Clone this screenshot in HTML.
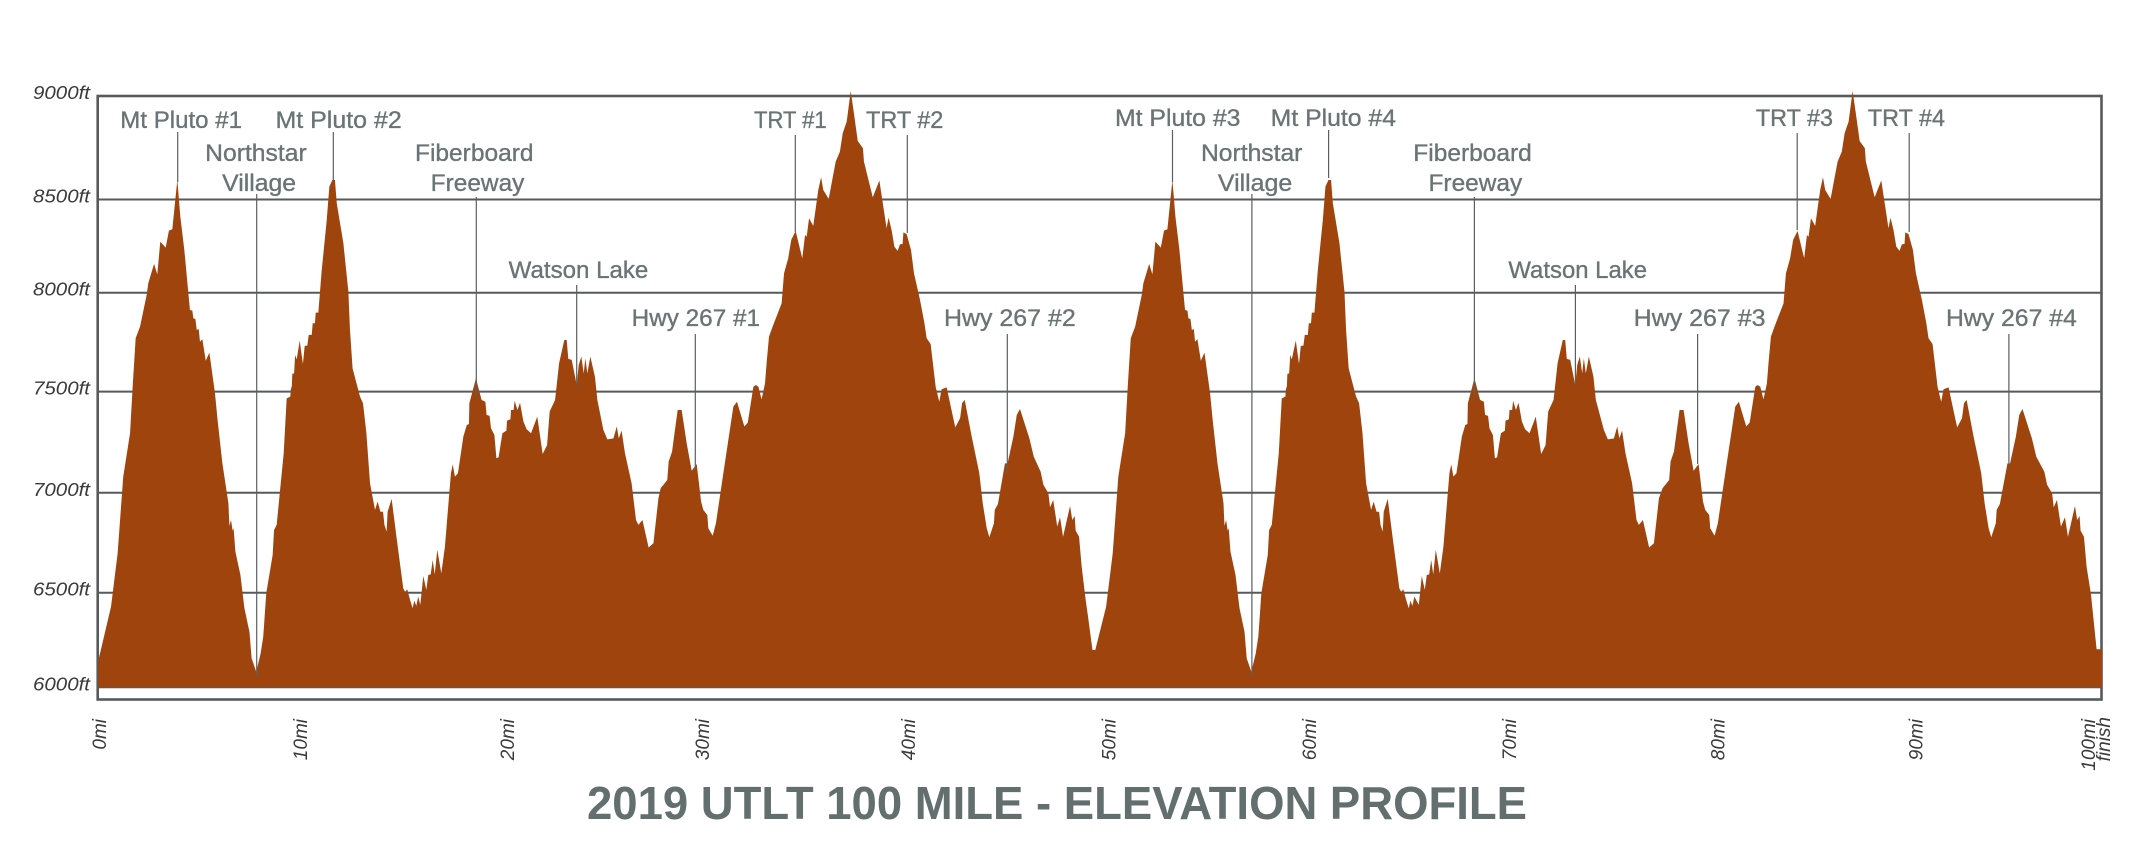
<!DOCTYPE html>
<html lang="en">
<head>
<meta charset="utf-8">
<title>2019 UTLT 100 Mile - Elevation Profile</title>
<style>
html,body{margin:0;padding:0;background:#fff;}
svg{display:block;}
text{font-family:"Liberation Sans",sans-serif;}
.ann{font-size:24px;fill:#6a7475;stroke:#6a7475;stroke-width:.35px;}
.leader{stroke:#5a5f60;stroke-width:1.2;}
.ytick,.xtick{font-style:italic;fill:#3a3a3a;}
</style>
</head>
<body>
<svg id="chart" xmlns="http://www.w3.org/2000/svg" width="2143" height="857" viewBox="0 0 2143 857">
  <rect x="0" y="0" width="2143" height="857" fill="#fff"/>
  <rect x="97.7" y="96" width="2003.8" height="603.5" fill="none" stroke="#58595b" stroke-width="2.6"/>
  <g id="grid"></g>
  <g id="marks"></g>
  <g id="yticks"></g>
  <g id="xticks"></g>

  <g>
    <line class="leader" x1="177.7" x2="177.7" y1="132" y2="182"/>
    <line class="leader" x1="333.3" x2="333.3" y1="132" y2="180"/>
    <line class="leader" x1="256.7" x2="256.7" y1="194" y2="676"/>
    <line class="leader" x1="476.3" x2="476.3" y1="197" y2="397"/>
    <line class="leader" x1="576.7" x2="576.7" y1="285" y2="385"/>
    <line class="leader" x1="695.3" x2="695.3" y1="334" y2="470"/>
    <line class="leader" x1="795.3" x2="795.3" y1="135" y2="232"/>
    <line class="leader" x1="907.3" x2="907.3" y1="135" y2="233"/>
    <line class="leader" x1="1007.3" x2="1007.3" y1="334" y2="473"/>
    <line class="leader" x1="1172.5" x2="1172.5" y1="130" y2="182"/>
    <line class="leader" x1="1328.6" x2="1328.6" y1="130" y2="178"/>
    <line class="leader" x1="1251.9" x2="1251.9" y1="194" y2="676"/>
    <line class="leader" x1="1474.4" x2="1474.4" y1="197" y2="397"/>
    <line class="leader" x1="1575.4" x2="1575.4" y1="285" y2="385"/>
    <line class="leader" x1="1697.6" x2="1697.6" y1="334" y2="464"/>
    <line class="leader" x1="1797.2" x2="1797.2" y1="133" y2="230"/>
    <line class="leader" x1="1909.2" x2="1909.2" y1="133" y2="232"/>
    <line class="leader" x1="2008.9" x2="2008.9" y1="334" y2="465"/>
  </g>

  <g>
    <text class="ann" x="120.3" y="128" textLength="121.7" lengthAdjust="spacingAndGlyphs">Mt Pluto #1</text>
    <text class="ann" x="275.5" y="128" textLength="126.2" lengthAdjust="spacingAndGlyphs">Mt Pluto #2</text>
    <text class="ann" x="205.2" y="161" textLength="101.5" lengthAdjust="spacingAndGlyphs">Northstar</text>
    <text class="ann" x="222.2" y="191" textLength="73.9" lengthAdjust="spacingAndGlyphs">Village</text>
    <text class="ann" x="415" y="161" textLength="118.5" lengthAdjust="spacingAndGlyphs">Fiberboard</text>
    <text class="ann" x="430.7" y="191" textLength="93.7" lengthAdjust="spacingAndGlyphs">Freeway</text>
    <text class="ann" x="508.7" y="278" textLength="139.6" lengthAdjust="spacingAndGlyphs">Watson Lake</text>
    <text class="ann" x="631.7" y="326" textLength="128.3" lengthAdjust="spacingAndGlyphs">Hwy 267 #1</text>
    <text class="ann" x="754" y="128" textLength="72.7" lengthAdjust="spacingAndGlyphs">TRT #1</text>
    <text class="ann" x="866" y="128" textLength="77.3" lengthAdjust="spacingAndGlyphs">TRT #2</text>
    <text class="ann" x="944" y="326" textLength="131.7" lengthAdjust="spacingAndGlyphs">Hwy 267 #2</text>
    <text class="ann" x="1115" y="126" textLength="125.4" lengthAdjust="spacingAndGlyphs">Mt Pluto #3</text>
    <text class="ann" x="1270.7" y="126" textLength="125.3" lengthAdjust="spacingAndGlyphs">Mt Pluto #4</text>
    <text class="ann" x="1201" y="161" textLength="101.4" lengthAdjust="spacingAndGlyphs">Northstar</text>
    <text class="ann" x="1217.9" y="191" textLength="74.4" lengthAdjust="spacingAndGlyphs">Village</text>
    <text class="ann" x="1413.3" y="161" textLength="118.5" lengthAdjust="spacingAndGlyphs">Fiberboard</text>
    <text class="ann" x="1428.5" y="191" textLength="93.7" lengthAdjust="spacingAndGlyphs">Freeway</text>
    <text class="ann" x="1508.4" y="278" textLength="138.6" lengthAdjust="spacingAndGlyphs">Watson Lake</text>
    <text class="ann" x="1633.7" y="326" textLength="131.8" lengthAdjust="spacingAndGlyphs">Hwy 267 #3</text>
    <text class="ann" x="1755.9" y="126" textLength="77.1" lengthAdjust="spacingAndGlyphs">TRT #3</text>
    <text class="ann" x="1867.9" y="126" textLength="77.1" lengthAdjust="spacingAndGlyphs">TRT #4</text>
    <text class="ann" x="1946" y="326" textLength="130.8" lengthAdjust="spacingAndGlyphs">Hwy 267 #4</text>
  </g>

  <text x="587" y="819" font-size="46" font-weight="bold" fill="#636e6f" textLength="940" lengthAdjust="spacingAndGlyphs">2019 UTLT 100 MILE - ELEVATION PROFILE</text>
</svg>

<script>
// Course distance in miles, first half of the out-and-back profile
const lap1Miles = [0,0.18,0.65,0.98,1.26,1.60,1.73,1.88,2.10,2.43,2.51,2.80,2.96,3.11,3.38,3.54,3.71,3.96,4.11,4.31,4.59,4.71,4.76,4.86,4.93,5.03,5.09,5.21,5.38,5.56,5.84,5.97,6.21,6.51,6.56,6.64,6.72,6.77,6.86,7.11,7.31,7.56,7.67,7.90,8.12,8.25,8.40,8.72,8.79,8.92,9.27,9.42,9.60,9.64,9.67,9.70,9.79,9.84,9.92,10.07,10.23,10.32,10.45,10.52,10.67,10.72,10.83,10.87,11.00,11.17,11.42,11.55,11.70,11.83,11.92,12.25,12.50,12.58,12.71,13.08,13.23,13.40,13.58,13.83,13.96,14.10,14.23,14.30,14.41,14.46,14.66,14.91,15.24,15.33,15.44,15.58,15.71,15.79,15.89,15.99,16.09,16.24,16.39,16.49,16.61,16.71,16.81,16.94,17.14,17.32,17.62,17.71,17.82,17.97,18.24,18.41,18.52,18.54,18.87,19.15,19.34,19.40,19.55,19.62,19.79,19.89,20.00,20.19,20.39,20.42,20.59,20.62,20.75,20.80,20.94,21.07,21.24,21.40,21.62,21.93,22.20,22.42,22.55,22.82,23.02,23.28,23.40,23.48,23.65,23.90,24.00,24.13,24.25,24.33,24.43,24.58,24.81,24.93,25.23,25.43,25.73,25.90,26.00,26.14,26.31,26.64,26.86,26.98,27.18,27.49,27.73,27.98,28.09,28.42,28.49,28.66,28.76,28.94,29.14,29.39,29.64,29.89,30.11,30.22,30.42,30.47,30.69,30.85,31.22,31.52,31.72,31.90,32.27,32.44,32.72,32.84,32.97,33.13,33.30,33.38,33.50,33.68,34.13,34.25,34.46,34.61,34.83,35.16,35.30,35.38,35.50,35.71,35.96,36.10,36.21,36.48,36.83,37.04,37.18,37.38,37.58,37.74,37.93,38.19,38.24,38.68,39.01,39.37,39.47,39.62,39.76,39.92,40.04,40.17,40.21,40.37,40.59,40.74,41.04,41.26,41.37,41.57,41.82,42.00,42.12,42.37,42.70,42.80,43.04,43.14,43.27,43.62,44.00,44.17,44.37,44.50,44.73,44.77,44.93,45.28,45.41,45.70,45.87,46.03,46.50,46.72,47.06,47.20,47.45,47.53,47.69,47.89,48.03,48.18,48.53,48.64,48.76,48.81,48.98,49.11,49.31,49.42,49.65,49.79];
// Elevation in feet for the first half
const lap1Feet = [6130,6206,6409,6680,7069,7289,7525,7771,7830,7991,8050,8148,8095,8261,8231,8317,8324,8574,8388,8219,7914,7911,7872,7869,7813,7818,7754,7766,7657,7698,7492,7356,7136,6934,6819,6849,6795,6807,6688,6570,6401,6282,6147,6079,6172,6257,6477,6671,6798,6824,7187,7466,7475,7529,7512,7590,7593,7686,7664,7759,7640,7733,7733,7788,7788,7847,7847,7901,7901,8117,8371,8540,8574,8574,8456,8253,8007,7813,7618,7475,7441,7289,7035,6900,6942,6891,6891,6824,6790,6891,6956,6756,6502,6485,6497,6443,6401,6440,6413,6460,6418,6565,6494,6570,6573,6646,6573,6697,6578,6714,7086,7131,7069,7086,7272,7331,7336,7441,7568,7458,7449,7382,7377,7314,7280,7162,7167,7289,7302,7353,7360,7407,7407,7454,7407,7444,7348,7309,7289,7373,7184,7229,7399,7458,7644,7762,7762,7666,7661,7534,7635,7678,7593,7669,7593,7678,7576,7458,7306,7258,7262,7323,7263,7302,7187,7035,6849,6824,6849,6709,6731,6959,7010,7052,7145,7196,7272,7407,7407,7238,7099,7133,6942,6900,6874,6807,6769,6832,7086,7289,7424,7449,7323,7343,7525,7534,7525,7461,7542,7644,7779,7830,7948,8100,8177,8270,8315,8177,8295,8286,8380,8341,8523,8588,8523,8478,8667,8718,8811,8870,9026,8912,8772,8735,8667,8486,8571,8329,8383,8320,8236,8214,8248,8249,8308,8300,8219,8100,7965,7847,7771,7742,7525,7449,7512,7522,7365,7319,7365,7441,7458,7272,7086,6934,6807,6761,6832,6900,6930,7136,7136,7272,7382,7412,7263,7170,7094,7027,6984,6913,6950,6815,6863,6764,6920,6849,6869,6795,6764,6612,6443,6364,6189,6189];
// Course distance in miles, second half
const lap2Miles = [50.33,50.66,50.94,51.28,51.41,51.56,51.78,52.11,52.19,52.48,52.64,52.79,53.06,53.22,53.39,53.64,53.79,53.99,54.27,54.39,54.44,54.54,54.61,54.71,54.77,54.89,55.06,55.24,55.52,55.65,55.89,56.19,56.24,56.32,56.40,56.45,56.54,56.79,56.99,57.24,57.35,57.58,57.80,57.93,58.08,58.40,58.47,58.60,58.95,59.10,59.28,59.32,59.35,59.38,59.47,59.52,59.60,59.80,59.96,60.05,60.18,60.25,60.40,60.45,60.56,60.60,60.73,60.90,61.15,61.28,61.43,61.56,61.65,61.98,62.23,62.31,62.44,62.81,62.96,63.13,63.31,63.56,63.69,63.83,63.96,64.03,64.14,64.19,64.39,64.64,64.97,65.06,65.17,65.31,65.44,65.52,65.62,65.72,65.94,66.09,66.24,66.34,66.46,66.56,66.66,66.79,66.99,67.17,67.47,67.56,67.67,67.82,68.09,68.26,68.37,68.39,68.72,69.00,69.19,69.25,69.40,69.47,69.64,69.74,69.85,70.04,70.24,70.27,70.44,70.47,70.60,70.65,70.79,70.92,71.09,71.25,71.47,71.78,72.05,72.27,72.40,72.67,72.87,73.13,73.25,73.33,73.50,73.75,73.85,73.98,74.10,74.18,74.28,74.43,74.66,74.78,75.18,75.38,75.68,75.85,75.95,76.09,76.26,76.59,76.81,76.93,77.13,77.44,77.68,77.93,78.11,78.44,78.51,78.68,78.78,78.96,79.16,79.41,79.66,79.91,80.13,80.24,80.44,80.49,80.71,80.87,81.24,81.54,81.74,81.92,82.29,82.46,82.74,82.86,82.99,83.15,83.32,83.40,83.52,83.70,84.15,84.27,84.48,84.63,84.85,85.18,85.32,85.40,85.52,85.73,85.98,86.12,86.23,86.50,86.85,87.06,87.20,87.40,87.60,87.76,87.95,88.21,88.26,88.70,89.03,89.39,89.49,89.64,89.78,89.94,90.06,90.19,90.23,90.39,90.61,90.76,91.06,91.28,91.39,91.59,91.84,92.02,92.14,92.39,92.72,92.82,93.06,93.16,93.29,93.64,94.02,94.19,94.39,94.52,94.75,94.79,94.95,95.33,95.46,95.75,95.92,96.08,96.55,96.77,97.17,97.31,97.56,97.64,97.80,98.00,98.20,98.35,98.70,98.81,98.93,98.98,99.15,99.28,99.50,99.78,100.05];
// Elevation in feet for the second half
const lap2Feet = [6409,6680,7069,7289,7525,7771,7830,7991,8050,8148,8095,8261,8231,8317,8324,8574,8388,8219,7914,7911,7872,7869,7813,7818,7754,7766,7657,7698,7492,7356,7136,6934,6819,6849,6795,6807,6688,6570,6401,6282,6147,6079,6172,6257,6477,6671,6798,6824,7187,7466,7475,7529,7512,7590,7593,7686,7664,7759,7640,7733,7733,7788,7788,7847,7847,7901,7901,8117,8371,8540,8574,8574,8456,8253,8007,7813,7618,7475,7441,7289,7035,6900,6942,6891,6891,6824,6790,6891,6956,6756,6502,6485,6497,6443,6401,6440,6413,6460,6418,6565,6494,6570,6573,6646,6573,6697,6578,6714,7086,7131,7069,7086,7272,7331,7336,7441,7568,7458,7449,7382,7377,7314,7280,7162,7167,7289,7302,7353,7360,7407,7407,7454,7407,7444,7348,7309,7289,7373,7184,7229,7399,7458,7644,7762,7762,7666,7661,7534,7635,7678,7593,7669,7593,7678,7576,7458,7306,7258,7262,7323,7263,7302,7187,7035,6849,6824,6849,6709,6731,6959,7010,7052,7145,7196,7272,7407,7407,7238,7099,7133,6942,6900,6874,6807,6769,6832,7086,7289,7424,7449,7323,7343,7525,7534,7525,7461,7542,7644,7779,7830,7948,8100,8177,8270,8315,8177,8295,8286,8380,8341,8523,8588,8523,8478,8667,8718,8811,8870,9026,8912,8772,8735,8667,8486,8571,8329,8383,8320,8236,8214,8248,8249,8308,8300,8219,8100,7965,7847,7771,7742,7525,7449,7512,7522,7365,7319,7365,7441,7458,7272,7086,6934,6807,6761,6832,6900,6930,7136,7136,7272,7382,7412,7263,7170,7094,7027,6984,6913,6950,6815,6863,6764,6920,6849,6869,6795,6764,6612,6471,6193,6193];

// Tick labels; the source artwork's gridlines and mile labels are hand placed, so
// the elevation / mile each one actually sits at is read separately.
const yTickLabels = ['6000ft','6500ft','7000ft','7500ft','8000ft','8500ft','9000ft'];
const yTickDrawnAtFeet = [6000,6480,6987,7500,8002,8475,9000];
const xTickLabels = ['0mi','10mi','20mi','30mi','40mi','50mi','60mi','70mi','80mi','90mi','100mi'];
const xTickDrawnAtMiles = [0,10.03,20.37,30.1,40.4,50.4,60.4,70.4,80.8,90.7,99.3];

function xScale(mile){ return 98 + mile * 20.03; }
function yScale(feet){ return 687.3 - (feet - 6000) / 5.0736; }

const SVGNS = 'http://www.w3.org/2000/svg';
const gridGroup = document.getElementById('grid');
const marksGroup = document.getElementById('marks');
const yGroup = document.getElementById('yticks');
const xGroup = document.getElementById('xticks');

yTickDrawnAtFeet.forEach(function(feet, i){
  const y = yScale(feet);
  if (i < yTickDrawnAtFeet.length - 1) {
    const line = document.createElementNS(SVGNS, 'line');
    
    
    line.setAttribute('x1', xScale(0));
    line.setAttribute('x2', xScale(100.05));
    line.setAttribute('y1', y);
    line.setAttribute('y2', y);
    line.setAttribute('stroke', '#58595b');
    line.setAttribute('stroke-width', '2');
    gridGroup.appendChild(line);
  }
  const t = document.createElementNS(SVGNS, 'text');
  
  
  t.setAttribute('class', 'ytick');
  t.setAttribute('x', 33);
  t.setAttribute('y', y + 3);
  t.setAttribute('font-size', '18');
  t.setAttribute('textLength', '57');
  t.setAttribute('lengthAdjust', 'spacingAndGlyphs');
  t.textContent = yTickLabels[i];
  yGroup.appendChild(t);
});

const allMiles = lap1Miles.concat(lap2Miles);
const allFeet = lap1Feet.concat(lap2Feet);
let d = 'M' + xScale(allMiles[0]).toFixed(2) + ' ' + yScale(6000).toFixed(2);
allMiles.forEach(function(mile, i){
  d += 'L' + xScale(mile).toFixed(2) + ' ' + yScale(allFeet[i]).toFixed(2);
});
d += 'L' + xScale(allMiles[allMiles.length - 1]).toFixed(2) + ' ' + yScale(6000).toFixed(2) + 'Z';
const area = document.createElementNS(SVGNS, 'path');


area.setAttribute('d', d);
area.setAttribute('fill', '#a0440e');
marksGroup.appendChild(area);

xTickDrawnAtMiles.forEach(function(mile, i){
  const x = xScale(mile) + 8;
  const t = document.createElementNS(SVGNS, 'text');
  
  
  t.setAttribute('class', 'xtick');
  t.setAttribute('font-size', '19');
  t.setAttribute('text-anchor', 'end');
  t.setAttribute('transform', 'translate(' + x.toFixed(1) + ' 719) rotate(-90)');
  t.textContent = xTickLabels[i];
  xGroup.appendChild(t);
});
const finishLabel = document.createElementNS(SVGNS, 'text');


finishLabel.setAttribute('class', 'xtick');
finishLabel.setAttribute('font-size', '19');
finishLabel.setAttribute('text-anchor', 'end');
finishLabel.setAttribute('transform', 'translate(' + (xScale(100) + 9).toFixed(1) + ' 717) rotate(-90)');
finishLabel.textContent = 'finish';
xGroup.appendChild(finishLabel);
</script>
</body>
</html>
